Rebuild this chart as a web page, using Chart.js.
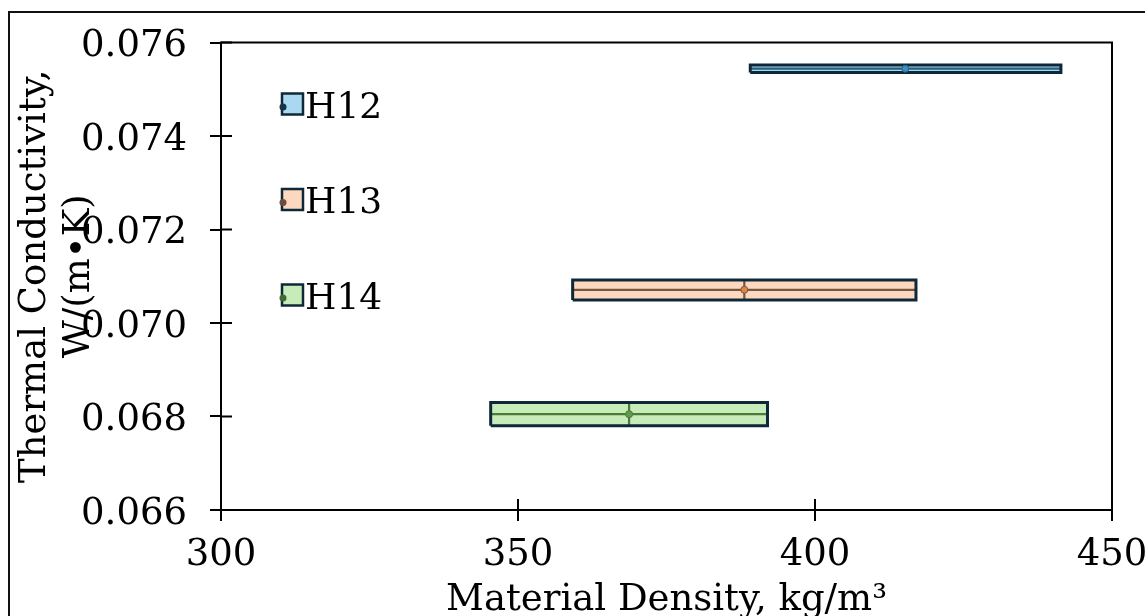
<!DOCTYPE html>
<html><head><meta charset="utf-8">
<script src="https://cdn.jsdelivr.net/npm/chart.js@4"></script>
<style>html,body{margin:0;padding:0;background:#fff;}canvas{display:block}</style>
</head><body>
<canvas id="c" width="1145" height="616"></canvas>
<script>
// ---- data ----
const seriesNames = ['H12', 'H13', 'H14'];
const densityMin = [389.1, 359.2, 345.4];
const densityMax = [441.4, 417.0, 392.0];
const densityMean = [415.2, 388.1, 368.7];
const conductivityMin = [0.07536, 0.07049, 0.06780];
const conductivityMax = [0.07552, 0.07092, 0.06830];
const conductivityMean = [0.07544, 0.07071, 0.06805];
const xTickValues = [300, 350, 400, 450];
const yTickValues = [0.066, 0.068, 0.070, 0.072, 0.074, 0.076];

// ---- styles ----
const fillColors = ['#a9d8f0', '#fbd8bf', '#c8ebba'];
const lineColors = ['#235f7e', '#7a5640', '#4c7a3a'];
const dotColors = ['#3b8fc4', '#e0843e', '#5e9c48'];
const legendDotColors = ['#15324a', '#6e4c3c', '#3e6a30'];
const edgeColor = '#0f2838';
const FONT = "'DejaVu Serif', serif";

const datasets = [];
seriesNames.forEach((name, i) => {
  const rect = [
    {x: densityMin[i], y: conductivityMin[i]},
    {x: densityMax[i], y: conductivityMin[i]},
    {x: densityMax[i], y: conductivityMax[i]},
    {x: densityMin[i], y: conductivityMax[i]},
    {x: densityMin[i], y: conductivityMin[i]}
  ];
  datasets.push({
    label: name + ' range', order: 10, data: rect,
    showLine: true, fill: 'shape', backgroundColor: fillColors[i],
    borderWidth: 0, borderColor: 'rgba(0,0,0,0)', pointRadius: 0, tension: 0
  });
  datasets.push({
    label: name + ' x-bar', order: 5,
    data: [{x: densityMin[i], y: conductivityMean[i]}, {x: densityMax[i], y: conductivityMean[i]}],
    showLine: true, fill: false, borderColor: lineColors[i], borderWidth: 2.2, pointRadius: 0
  });
  datasets.push({
    label: name + ' y-bar', order: 5,
    data: [{x: densityMean[i], y: conductivityMin[i]}, {x: densityMean[i], y: conductivityMax[i]}],
    showLine: true, fill: false, borderColor: lineColors[i], borderWidth: 2.2, pointRadius: 0
  });
  datasets.push({
    label: name + ' edge', order: 3, data: rect,
    showLine: true, fill: false, borderColor: edgeColor, borderWidth: 3, pointRadius: 0, tension: 0
  });
  datasets.push({
    label: name, order: 1,
    data: [{x: densityMean[i], y: conductivityMean[i]}],
    pointRadius: 3.5, pointBackgroundColor: dotColors[i], pointBorderColor: lineColors[i], pointBorderWidth: 1
  });
});

const framePlugin = {
  id: 'frame',
  beforeDraw(chart) {
    const ctx = chart.ctx;
    ctx.save();
    ctx.strokeStyle = '#111';
    ctx.lineWidth = 2;
    ctx.strokeRect(9, 12, 3000, 3000);
    ctx.restore();
  },
  afterDraw(chart) {
    const ctx = chart.ctx, a = chart.chartArea;
    const xs = chart.scales.x, ys = chart.scales.y;
    ctx.save();
    ctx.strokeStyle = '#000';
    ctx.lineWidth = 2;
    ctx.strokeRect(a.left, a.top, a.right - a.left, a.bottom - a.top);
    ctx.beginPath();
    xs.ticks.forEach(t => {
      const px = xs.getPixelForValue(t.value);
      ctx.moveTo(px, a.bottom); ctx.lineTo(px, a.bottom - 11);
    });
    ys.ticks.forEach(t => {
      const py = ys.getPixelForValue(t.value);
      ctx.moveTo(a.left, py); ctx.lineTo(a.left + 11, py);
    });
    ctx.stroke();
    // legend
    seriesNames.forEach((name, i) => {
      const cy = a.top + 61.5 + i * 95.5;
      const sx = a.left + 61;
      ctx.fillStyle = fillColors[i];
      ctx.fillRect(sx, cy - 10.5, 21, 21);
      ctx.strokeStyle = edgeColor;
      ctx.lineWidth = 2.5;
      ctx.strokeRect(sx, cy - 10.5, 21, 21);
      ctx.beginPath();
      ctx.arc(sx + 1, cy + 3, 3.5, 0, Math.PI * 2);
      ctx.fillStyle = legendDotColors[i];
      ctx.fill();
      ctx.fillStyle = '#000';
      ctx.font = '36px ' + FONT;
      ctx.textBaseline = 'alphabetic';
      ctx.textAlign = 'left';
      ctx.fillText(name, sx + 23, cy + 13.5);
    });
    ctx.restore();
  }
};

new Chart(document.getElementById('c'), {
  type: 'scatter',
  data: { datasets },
  options: {
    responsive: false,
    animation: false,
    devicePixelRatio: 1,
    layout: { padding: { top: 42.5, right: 33, left: 0, bottom: 0 } },
    plugins: { legend: { display: false }, tooltip: { enabled: false } },
    scales: {
      x: {
        type: 'linear', position: 'bottom', min: 300, max: 450,
        afterBuildTicks: s => { s.ticks = xTickValues.map(v => ({ value: v })); },
        afterFit: s => { s.height = 106; s.paddingLeft = 0; s.paddingRight = 0; },
        ticks: { font: { family: FONT, size: 37 }, color: '#000', padding: 12, maxRotation: 0, autoSkip: false,
                 callback: v => String(v) },
        grid: { drawOnChartArea: false, drawTicks: true, tickLength: 11, color: '#000', lineWidth: 2 },
        border: { color: '#000', width: 2 },
        title: { display: true, text: 'Material Density, kg/m³', color: '#000',
                 font: { family: FONT, size: 37 }, padding: { top: 0, bottom: -7 } }
      },
      y: {
        type: 'linear', position: 'left', min: 0.066, max: 0.076,
        afterBuildTicks: s => { s.ticks = yTickValues.map(v => ({ value: v })); },
        afterFit: s => { s.width = 221; s.paddingTop = 0; s.paddingBottom = 0; },
        ticks: { font: { family: FONT, size: 37 }, color: '#000', padding: 23, labelOffset: 4, autoSkip: false,
                 callback: v => Number(v).toFixed(3) },
        grid: { drawOnChartArea: false, drawTicks: true, tickLength: 11, color: '#000', lineWidth: 2 },
        border: { color: '#000', width: 2 },
        title: { display: true, text: ['Thermal Conductivity,', 'W/(m•K)'], color: '#000',
                 font: { family: FONT, size: 37 }, padding: { top: 13, bottom: 0 } }
      }
    }
  },
  plugins: [framePlugin]
});
</script>
</body></html>
